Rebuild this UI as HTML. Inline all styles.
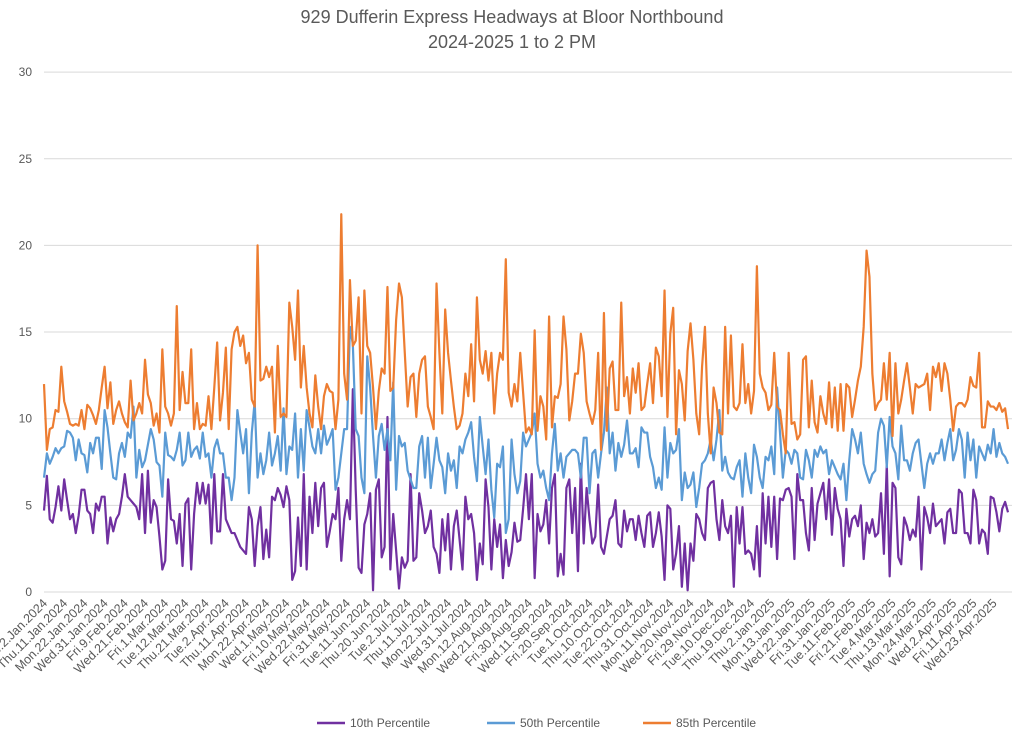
<!DOCTYPE html>
<html><head><meta charset="utf-8"><style>
body{margin:0;background:#fff;}
svg{display:block;font-family:"Liberation Sans",Arial,sans-serif;}
</style></head><body>
<svg id="chart" width="1024" height="737" viewBox="0 0 1024 737">
<text x="512" y="23" text-anchor="middle" font-size="18" fill="#595959">929 Dufferin Express Headways at Bloor Northbound</text>
<text x="512" y="48" text-anchor="middle" font-size="18" fill="#595959">2024-2025 1 to 2 PM</text>
<g id="grid"></g><g id="yticks"></g><g id="xticks"></g><g id="series"></g>
<g>
<g><line x1="317" y1="723" x2="345" y2="723" stroke="#7030A0" stroke-width="2.5"/><text x="350" y="727" font-size="12" fill="#595959">10th Percentile</text></g>
<g><line x1="487" y1="723" x2="515" y2="723" stroke="#5B9BD5" stroke-width="2.5"/><text x="520" y="727" font-size="12" fill="#595959">50th Percentile</text></g>
<g><line x1="643" y1="723" x2="671" y2="723" stroke="#ED7D31" stroke-width="2.5"/><text x="676" y="727" font-size="12" fill="#595959">85th Percentile</text></g>
</g>
</svg>
<script>
const xLabels = ["Tue.2.Jan.2024","Thu.11.Jan.2024","Mon.22.Jan.2024","Wed.31.Jan.2024","Fri.9.Feb.2024","Wed.21.Feb.2024","Fri.1.Mar.2024","Tue.12.Mar.2024","Thu.21.Mar.2024","Tue.2.Apr.2024","Thu.11.Apr.2024","Mon.22.Apr.2024","Wed.1.May.2024","Fri.10.May.2024","Wed.22.May.2024","Fri.31.May.2024","Tue.11.Jun.2024","Thu.20.Jun.2024","Tue.2.Jul.2024","Thu.11.Jul.2024","Mon.22.Jul.2024","Wed.31.Jul.2024","Mon.12.Aug.2024","Wed.21.Aug.2024","Fri.30.Aug.2024","Wed.11.Sep.2024","Fri.20.Sep.2024","Tue.1.Oct.2024","Thu.10.Oct.2024","Tue.22.Oct.2024","Thu.31.Oct.2024","Mon.11.Nov.2024","Wed.20.Nov.2024","Fri.29.Nov.2024","Tue.10.Dec.2024","Thu.19.Dec.2024","Thu.2.Jan.2025","Mon.13.Jan.2025","Wed.22.Jan.2025","Fri.31.Jan.2025","Tue.11.Feb.2025","Fri.21.Feb.2025","Tue.4.Mar.2025","Thu.13.Mar.2025","Mon.24.Mar.2025","Wed.2.Apr.2025","Fri.11.Apr.2025","Wed.23.Apr.2025"];
const yTicks = [0,5,10,15,20,25,30];
const p85 = [
12.0,8.2,9.4,9.5,10.5,10.4,13.0,11.0,10.4,9.7,9.6,9.7,9.6,10.5,9.4,10.8,10.6,10.2,9.7,10.5,11.8,13.0,10.6,12.1,9.7,10.5,11.0,10.3,9.8,9.5,12.2,9.9,10.3,10.9,10.3,13.4,11.4,10.9,9.6,10.3,9.2,14.0,10.7,10.3,9.6,10.3,16.5,10.5,12.7,10.9,10.9,14.0,9.4,10.9,9.4,9.7,9.6,11.3,9.4,11.8,14.4,9.9,11.5,14.1,9.4,14.0,15.0,15.3,14.2,14.8,13.2,13.8,11.1,10.7,20.0,12.2,12.3,13.0,12.4,13.0,9.2,14.2,10.1,10.3,
10.1,16.7,15.3,13.4,17.4,11.8,14.2,11.8,10.3,9.5,12.5,10.7,9.4,11.3,12.0,11.6,11.5,9.4,11.1,21.8,12.6,11.1,18.0,14.2,14.5,17.0,10.3,17.4,14.2,13.8,11.8,9.4,11.6,12.9,12.6,17.6,11.6,11.8,15.7,17.8,17.0,13.8,10.7,12.4,12.6,10.1,12.6,13.4,13.6,10.7,10.1,9.4,17.8,13.8,10.3,16.3,13.8,12.2,10.7,9.4,9.6,10.3,12.6,11.3,14.3,11.0,17.0,13.4,12.6,13.9,12.2,13.8,10.3,12.6,13.8,13.4,19.2,11.5,10.7,12.0,11.0,13.8,11.5,9.2,
9.5,9.1,15.1,9.3,11.3,10.7,8.8,15.9,9.5,11.3,11.2,12.0,15.9,14.0,9.9,11.0,12.6,12.6,14.9,13.8,11.0,10.3,9.7,10.5,13.8,8.2,16.1,9.3,12.9,13.3,10.5,10.5,16.7,11.3,12.4,10.3,12.9,11.5,13.2,10.5,10.7,12.0,13.2,10.9,14.1,13.6,11.3,17.4,10.1,14.9,16.4,9.1,12.8,12.0,9.9,13.9,15.5,13.4,10.3,9.1,13.0,15.3,10.3,8.0,11.8,10.9,9.2,9.1,15.3,10.3,14.8,10.7,10.5,10.9,14.3,10.9,12.0,10.3,11.6,18.8,12.6,11.8,11.5,10.5,
10.8,13.8,10.7,10.5,9.1,8.0,13.8,9.7,9.8,8.8,9.1,13.4,13.6,9.5,12.2,9.8,9.2,11.3,10.3,9.7,12.1,9.5,11.8,9.3,12.0,9.3,12.0,11.8,10.1,11.1,12.2,13.0,15.3,19.7,18.2,12.6,10.5,10.9,11.1,13.2,11.1,13.8,9.0,13.2,10.3,11.1,12.2,13.2,11.8,10.3,12.0,11.8,11.9,12.0,12.6,10.5,13.0,12.4,13.2,11.6,13.2,12.6,11.1,9.3,10.7,10.9,10.9,10.7,11.1,12.4,11.9,11.8,13.8,9.5,9.5,11.0,10.7,10.7,10.5,10.9,10.4,10.6,9.4];
const p50 = [
6.6,8.0,7.4,7.8,8.3,8.0,8.3,8.4,9.3,9.2,8.9,7.6,8.8,8.0,7.9,6.9,8.6,8.0,8.9,8.9,7.1,10.5,9.5,8.0,6.6,6.5,8.0,8.6,7.8,9.2,8.9,10.7,6.6,8.2,7.2,7.6,8.5,9.4,8.8,7.5,7.3,5.5,9.2,7.9,7.8,7.6,8.2,9.2,7.3,7.6,9.2,7.8,8.2,8.4,7.7,9.2,7.8,8.0,6.6,8.3,8.8,8.0,8.0,6.6,6.6,5.3,6.6,10.5,9.2,8.0,9.4,5.7,9.2,11.0,6.6,8.0,6.8,7.6,9.2,7.3,8.0,9.0,7.0,10.6,
6.8,8.4,8.2,10.3,6.6,9.4,7.0,10.5,9.5,8.4,8.0,9.4,8.0,9.6,8.5,8.9,9.4,5.9,6.6,8.0,9.4,9.4,15.3,14.3,9.4,9.0,6.6,5.7,13.6,11.8,9.0,6.6,9.0,9.7,8.2,9.4,7.6,12.1,5.9,9.0,8.4,8.6,7.0,6.5,6.0,6.0,8.4,9.0,6.6,8.9,6.0,7.4,8.9,7.6,7.2,5.7,8.0,7.0,7.6,6.0,8.4,8.0,8.8,9.2,9.8,7.8,6.4,10.1,8.4,6.8,8.8,5.9,4.3,7.4,7.2,8.4,3.4,4.2,8.8,6.8,5.7,6.4,9.2,8.4,
8.8,9.2,10.3,7.4,6.6,7.0,6.0,5.3,8.0,9.7,7.0,8.0,6.6,7.8,8.0,8.2,8.2,8.0,6.6,8.9,8.9,5.7,8.0,8.2,6.6,8.0,9.2,11.8,8.0,9.2,7.0,8.6,7.8,8.5,9.9,8.0,8.0,8.3,7.2,9.5,9.2,9.2,7.8,7.2,6.0,6.6,5.9,9.5,6.6,8.6,8.0,8.2,9.4,5.3,6.9,6.0,6.2,6.9,4.9,6.0,7.4,7.6,8.0,8.8,7.6,8.8,10.5,7.0,7.8,6.9,6.6,6.5,7.2,7.6,5.5,8.0,6.6,5.7,8.5,7.8,6.6,6.0,7.8,7.6,
8.4,6.8,11.8,9.2,6.6,8.2,8.0,7.4,8.2,8.0,6.6,6.5,8.2,7.6,6.6,8.2,7.8,8.4,8.0,8.2,6.8,7.6,7.2,6.8,6.5,7.4,5.3,7.6,9.4,8.8,8.0,9.2,7.4,6.8,6.3,6.8,7.0,9.2,10.0,9.6,7.2,10.1,8.4,8.0,6.5,9.6,7.6,7.6,7.0,8.0,8.6,8.8,7.4,6.0,7.4,8.0,7.4,8.0,8.0,8.8,7.6,8.6,9.4,7.6,8.2,9.4,8.8,6.6,9.2,7.6,8.8,6.6,8.4,8.0,7.6,8.5,8.0,9.4,7.8,8.6,8.0,7.8,7.4];
const p10 = [
4.7,6.7,4.2,4.0,4.9,6.1,4.7,6.5,5.3,4.2,4.5,3.4,4.4,5.9,5.9,4.7,4.5,3.4,5.1,4.7,5.5,5.5,2.8,4.3,3.5,4.2,4.5,5.5,6.8,5.5,5.3,5.1,4.9,4.2,6.8,3.4,7.0,4.0,5.3,4.9,3.2,1.3,1.8,6.5,4.2,4.1,2.8,4.5,1.5,5.1,5.4,1.3,4.5,6.3,5.1,6.3,5.1,6.2,2.8,6.8,3.5,3.5,6.8,4.2,3.8,3.4,3.4,3.0,2.6,2.4,2.2,4.9,4.2,1.5,3.8,4.9,1.9,3.6,2.0,5.5,5.3,6.0,5.6,4.9,
6.1,5.3,0.7,1.2,4.3,1.5,6.8,1.3,5.5,3.4,6.3,3.8,6.0,6.3,2.6,3.5,4.5,4.2,6.0,1.8,4.2,5.3,4.2,11.7,5.9,1.4,1.1,3.9,4.5,5.7,0.1,5.9,6.5,2.0,2.6,10.1,1.3,4.5,2.4,0.2,2.0,1.4,1.8,6.8,1.8,2.0,5.7,4.7,3.4,3.8,4.7,2.6,2.2,1.1,4.2,2.4,4.5,1.3,3.8,4.7,3.0,1.3,5.5,4.2,4.5,3.4,0.7,2.8,1.6,6.5,4.9,1.3,4.2,2.6,3.9,0.8,3.0,1.5,2.3,4.0,2.9,3.0,4.8,6.8,
4.2,6.8,0.8,4.5,3.5,3.9,5.3,2.8,6.0,6.8,0.9,2.2,1.0,6.0,6.5,3.4,6.0,1.2,7.4,2.8,6.0,4.2,2.8,3.2,6.2,2.6,2.2,3.2,4.2,4.4,5.3,2.8,2.6,4.7,3.5,4.2,4.2,3.0,4.4,3.4,2.6,4.4,4.6,2.6,3.4,4.6,3.2,0.7,5.0,4.8,1.3,2.2,3.8,0.3,2.8,0.1,2.8,1.8,4.5,4.2,3.4,3.0,6.0,6.3,6.4,4.2,3.0,5.3,3.8,3.4,4.4,0.3,4.9,2.8,4.9,2.2,2.4,2.2,1.3,3.8,0.9,5.7,2.8,5.5,
2.6,5.5,1.9,5.4,5.3,5.9,6.0,5.5,1.9,6.8,5.3,5.3,3.4,2.4,6.0,3.0,5.1,5.7,6.3,4.2,6.5,3.3,6.0,4.8,4.2,1.5,4.8,3.2,4.2,4.4,3.8,5.0,1.9,4.0,3.4,4.2,3.2,3.4,5.7,2.2,7.4,0.9,6.3,6.0,2.0,1.6,4.3,3.8,3.0,3.6,3.2,5.5,1.3,4.9,4.3,3.4,5.1,3.8,4.0,4.2,2.8,4.6,4.8,3.4,3.4,5.9,5.7,3.4,3.4,2.8,5.9,5.3,2.8,3.6,3.4,2.2,5.5,5.4,4.6,3.5,4.8,5.2,4.6];
const labelStep = 7;

const NS = "http://www.w3.org/2000/svg";
const X0 = 44, X1 = 1008, Y0 = 592, PPU = 17.33;
const N = Math.max(p10.length, p50.length, p85.length);
function xPos(i){ return X0 + i * (X1 - X0) / (N - 1); }
function yPos(v){ return Y0 - v * PPU; }
function mk(tag, attrs, parent){ const e = document.createElementNS(NS, tag); for (const k in attrs) e.setAttribute(k, attrs[k]); parent.appendChild(e); return e; }

const grid = document.getElementById('grid'), yt = document.getElementById('yticks'), xt = document.getElementById('xticks'), ser = document.getElementById('series');
yTicks.forEach(v => {
  const l = mk('line', {x1: 44, x2: 1012, y1: yPos(v), y2: yPos(v), stroke: '#d9d9d9', 'stroke-width': 1}, grid);
  
  
  const t = mk('text', {x: 32, y: yPos(v) + 4, 'text-anchor': 'end', 'font-size': 12, fill: '#595959'}, yt);
  t.textContent = v;
  
  
});
xLabels.forEach((lab, k) => {
  const x = xPos(k * labelStep) + 4;
  const t = mk('text', {x: x, y: 604, 'text-anchor': 'end', 'font-size': 12.5, fill: '#595959', transform: 'rotate(-45 ' + x + ' 604)'}, xt);
  t.textContent = lab;
  
  
});
[[p10, '#7030A0', 'series-10th-percentile'], [p50, '#5B9BD5', 'series-50th-percentile'], [p85, '#ED7D31', 'series-85th-percentile']].forEach(([arr, col, name]) => {
  const d = arr.map((v, i) => (i ? 'L' : 'M') + xPos(i).toFixed(2) + ' ' + yPos(v).toFixed(2)).join(' ');
  const p = mk('path', {d: d, fill: 'none', stroke: col, 'stroke-width': 2.2, 'stroke-linejoin': 'round'}, ser);
  
  
});
</script>
</body></html>
